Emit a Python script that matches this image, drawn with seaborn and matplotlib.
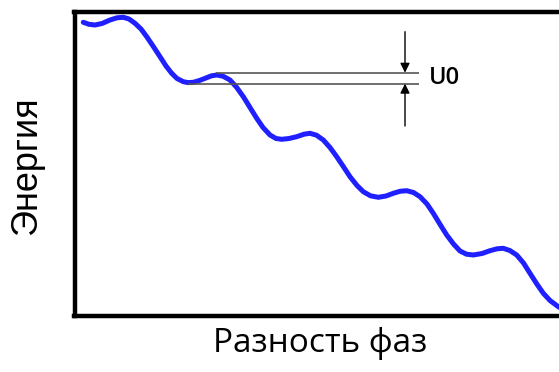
import matplotlib
matplotlib.use("Agg")
import matplotlib.pyplot as plt
import seaborn as sns
import pandas as pd

# Curve (phase difference, energy), arbitrary units
phase = [83.3, 89, 95, 102, 110, 117, 123.3, 129, 135, 141, 146.7, 153, 160, 166, 171.7,
         177, 183.3, 188, 193.3, 200, 206.7, 211.5, 216.7, 223, 230, 236.5, 243.3, 250,
         256.7, 263, 270, 276, 281.7, 289, 296.7, 304, 310, 316.5, 323.3, 330, 336.7,
         343.5, 350, 357, 363.3, 370.5, 378.3, 386, 393.3, 400, 406.7, 413.5, 420, 427,
         433.3, 440, 446.7, 453.5, 460, 466.5, 473.3, 482, 490, 497, 503.3, 510, 516.7,
         523.5, 530, 536.5, 543.3, 550, 558.3, 566]
energy = [293.7, 291.7, 291.0, 292.5, 296.0, 298.2, 298.7, 297.0, 292.7, 287.0, 279.3,
          270.0, 259.3, 250.0, 242.7, 237.5, 234.3, 233.4, 233.7, 235.7, 238.3, 240.2,
          241.0, 239.8, 236.0, 228.8, 219.3, 208.5, 197.7, 188.5, 181.0, 177.5, 176.7,
          177.5, 179.3, 181.8, 182.7, 180.8, 176.0, 168.5, 159.3, 149.2, 139.3, 130.5,
          124.3, 120.2, 118.7, 120.0, 122.7, 124.7, 125.3, 123.5, 119.3, 112.0, 102.7,
          91.7, 81.0, 72.0, 65.0, 61.8, 61.0, 62.5, 65.3, 67.2, 67.7, 65.4, 61.0, 53.0,
          42.7, 32.5, 22.7, 15.5, 9.3, 5.0]

# Barrier annotation
level_top = 243.3
level_bottom = 232.3
level_top_start = 216.0
level_bottom_start = 188.3
level_end = 419.0
arrow_x = 405.0
arrow_top_from = 284.3
arrow_bottom_from = 190.0
barrier_label = "U0"
xlabel = "Разность фаз"
ylabel = "Энергия"

df = pd.DataFrame({"phase": phase, "energy": energy})

sns.set_style("white")
W, H = 559, 372
fig = plt.figure(figsize=(W / 100, H / 100), dpi=100)
ax_left, ax_right, ax_top, ax_bottom = 74.5, 600.0, 12.0, 316.0
ax = fig.add_axes([ax_left / W, 1 - ax_bottom / H, (ax_right - ax_left) / W, (ax_bottom - ax_top) / H])

sns.lineplot(data=df, x="phase", y="energy", ax=ax, color="#1f1fff", linewidth=3.6,
             estimator=None, sort=False, solid_joinstyle="round", solid_capstyle="round")

ax.hlines([level_top], level_top_start, level_end, color="#555555", linewidth=1.2)
ax.hlines([level_bottom], level_bottom_start, level_end, color="#555555", linewidth=1.2)
ax.annotate("", xy=(arrow_x, level_top), xytext=(arrow_x, arrow_top_from),
            arrowprops=dict(arrowstyle="-|>", color="black", lw=1.0, mutation_scale=14,
                            shrinkA=0, shrinkB=0))
ax.annotate("", xy=(arrow_x, level_bottom), xytext=(arrow_x, arrow_bottom_from),
            arrowprops=dict(arrowstyle="-|>", color="black", lw=1.0, mutation_scale=14,
                            shrinkA=0, shrinkB=0))
ax.text(level_end + 10, (level_top + level_bottom) / 2, barrier_label, fontsize=17,
        family="Open Sans", fontweight="semibold", va="center", ha="left", color="black")

ax.set_xlim(ax_left, ax_right)
ax.set_ylim(0, ax_bottom - ax_top)
ax.set_xticks([])
ax.set_yticks([])
ax.set_xlabel("")
ax.set_ylabel("")
for side in ["left", "top", "bottom"]:
    ax.spines[side].set_visible(True)
    ax.spines[side].set_linewidth(3.2)
    ax.spines[side].set_color("black")
ax.spines["right"].set_visible(False)

fig.text(320 / W, 1 - 344 / H, xlabel, fontsize=24, family="Open Sans", ha="center",
         va="center", color="black")
fig.text(27 / W, 1 - 166 / H, ylabel, fontsize=26, family="Liberation Sans", ha="center",
         va="center", rotation=90, color="black")

fig.savefig("out.png", dpi=100)
